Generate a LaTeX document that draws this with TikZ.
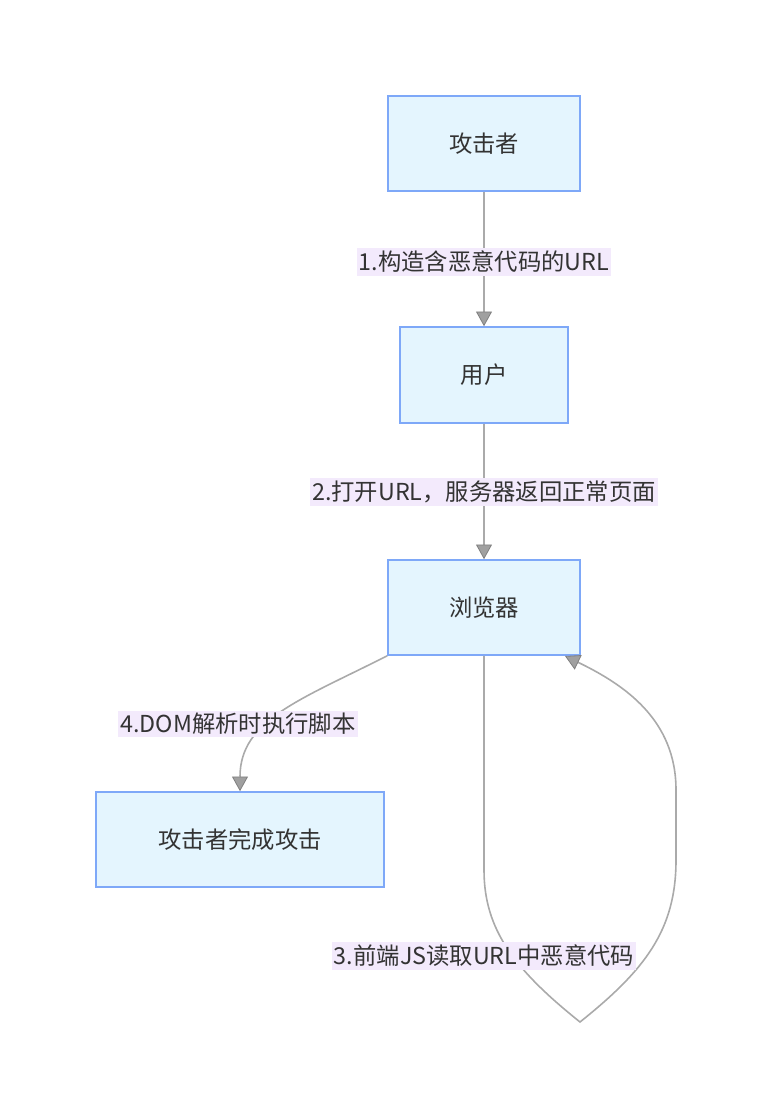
\documentclass[tikz,border=0pt]{standalone}
\usepackage{fontspec}
\setmainfont{Noto Sans CJK SC}
\usetikzlibrary{arrows.meta}
\definecolor{nodefill}{HTML}{E4F5FE}
\definecolor{nodeborder}{HTML}{7EA8F8}
\definecolor{edgecol}{HTML}{AAAAAA}
\definecolor{tipcol}{HTML}{A0A0A0}
\definecolor{labelbg}{HTML}{F3EAFC}
\definecolor{txt}{HTML}{333333}
\tikzset{
  box/.style={draw=nodeborder, fill=nodefill, line width=1.2pt, text=txt,
    font=\fontsize{17.5pt}{21pt}\selectfont, inner sep=0pt},
  elabel/.style={fill=labelbg, text=txt, font=\fontsize{17.5pt}{21pt}\selectfont,
    inner xsep=1.5pt, inner ysep=2pt},
  edge/.style={draw=edgecol, line width=1.2pt,
    -{Triangle[length=11pt,width=12pt,fill=tipcol,color=tipcol!80!black,line width=0.6pt]}},
}
\begin{document}
\begin{tikzpicture}[x=0.75pt,y=-0.75pt]
\useasboundingbox (0,0) rectangle (771,1120);
\node[box, minimum width=144pt, minimum height=71.25pt] (a) at (484,143.5) {攻击者};
\node[box, minimum width=126pt, minimum height=72pt] (u) at (484,375) {用户};
\node[box, minimum width=144pt, minimum height=71.25pt] (b) at (484,607.5) {浏览器};
\node[box, minimum width=216pt, minimum height=71.25pt] (d) at (240,839.5) {攻击者完成攻击};

\coordinate (bl) at (b.south west);
\coordinate (bs) at (b.south);
\coordinate (loopend) at (565,656);
\coordinate (lp) at (580,1022);

\draw[edge] (a) -- (u);
\draw[edge] (u) -- (b);
\draw[edge] (bl) .. controls (300,700) and (240,720) .. (d.north);
\draw[edge] (bs) -- (484,870) .. controls (484,930) and (515,970) .. (lp)
  .. controls (645,970) and (676,930) .. (676,860) -- (676,790)
  .. controls (676,720) and (625,685) .. (loopend);

\node[elabel] (l1) at (484,262) {1.构造含恶意代码的URL};
\node[elabel] (l2) at (484,492) {2.打开URL，服务器返回正常页面};
\node[elabel] (l4) at (238,724) {4.DOM解析时执行脚本};
\node[elabel] (l3) at (484,956) {3.前端JS读取URL中恶意代码};
\end{tikzpicture}
\end{document}
